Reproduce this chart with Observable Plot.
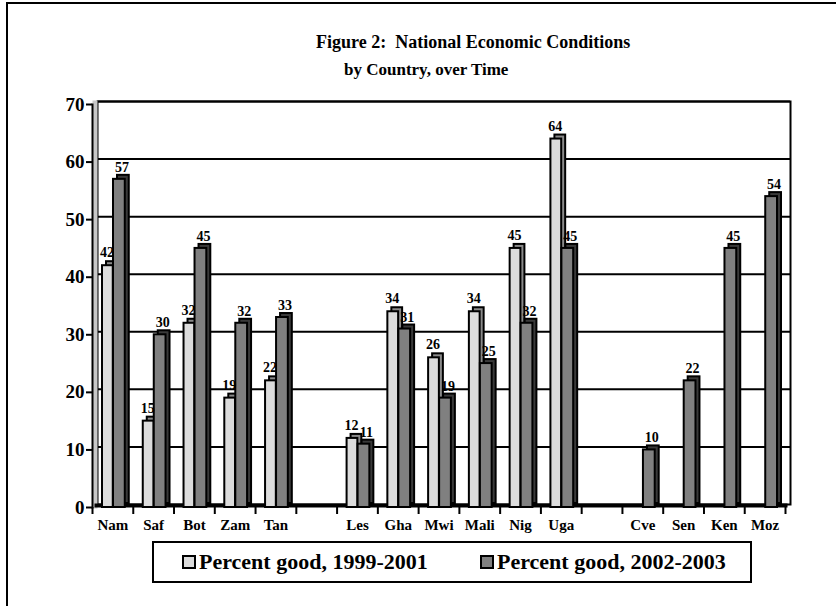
<!DOCTYPE html>
<html>
<head>
<meta charset="utf-8">
<script src="https://cdn.jsdelivr.net/npm/d3@7"></script>
<script src="https://cdn.jsdelivr.net/npm/@observablehq/plot@0.6"></script>
<style>
  html, body { margin: 0; padding: 0; background: #fff; }
  #wrap { position: relative; width: 836px; height: 606px; overflow: hidden; background: #fff;
          font-family: "Liberation Serif", "Times New Roman", serif; font-weight: bold; color: #000; }
  #outer { position: absolute; left: 6px; top: 2px; width: 1000px; height: 1000px; border: 2px solid #000; box-sizing: border-box; }
  .title { position: absolute; white-space: pre; font-weight: bold; line-height: 1; }
  #chart { position: absolute; left: 0; top: 0; }
  #legend { position: absolute; left: 152px; top: 541px; width: 600px; height: 42px; border: 2px solid #000; box-sizing: border-box; background: #fff; }
  .item { position: absolute; top: 0; height: 38px; display: flex; align-items: center; font-size: 22px; font-weight: bold; white-space: nowrap; }
  .sw { width: 14px; height: 14px; border: 2px solid #000; box-sizing: border-box; margin-right: 3px; }
</style>
</head>
<body>
<div id="wrap">
  <div id="outer"></div>
  <div class="title" id="t1" style="left:316px; top:33px; font-size:18px;">Figure 2:  National Economic Conditions</div>
  <div class="title" id="t2" style="left:344px; top:61px; font-size:17px;">by Country, over Time</div>
  <div id="chart"></div>
  <div id="legend"></div>
</div>
<script>
// ---- data ----
const countries = ["Nam", "Saf", "Bot", "Zam", "Tan", " ", "Les", "Gha", "Mwi", "Mali", "Nig", "Uga", "  ", "Cve", "Sen", "Ken", "Moz"];
const good1999 = [42, 15, 32, 19, 22, null, 12, 34, 26, 34, 45, 64, null, null, null, null, null];
const good2002 = [57, 30, 45, 32, 33, null, 11, 31, 19, 25, 32, 45, null, 10, 22, 45, 54];
const seriesNames = ["Percent good, 1999-2001", "Percent good, 2002-2003"];
const seriesColors = ["#dcdcdc", "#808080"];
const sideColors = ["#8a8a8a", "#3a3a3a"];
const yTicks = [0, 10, 20, 30, 40, 50, 60, 70];

const rows1 = countries.map((c, i) => ({country: c, value: good1999[i]})).filter(d => d.value != null);
const rows2 = countries.map((c, i) => ({country: c, value: good2002[i]})).filter(d => d.value != null);

// ---- layout ----
const W = 836, H = 540, ML = 92, MR = 51, MT = 104, MB = 33;
const bw = (W - ML - MR) / countries.length;
const depthX = 4, depthY = -4;
const font = "'Liberation Serif', 'Times New Roman', serif";

const barOpts = (fill, inL, inR, extra = {}) => ({
  x: "country", y: "value", fill, stroke: "black", strokeWidth: 2,
  insetLeft: inL, insetRight: inR, ...extra
});

const plot = Plot.plot({
  width: W, height: H,
  marginLeft: ML, marginRight: MR, marginTop: MT, marginBottom: MB,
  style: {fontFamily: font, fontWeight: "bold", color: "black", background: "transparent", overflow: "visible"},
  x: {type: "band", domain: countries, padding: 0, round: false, label: null},
  y: {domain: [0, 70], label: null},
  marks: [
    // back wall grid and frame
    Plot.gridY(yTicks.filter(d => d > 0), {stroke: "black", strokeOpacity: 1, strokeWidth: 2, dx: 5, dy: -3}),
    Plot.frame({stroke: "black", strokeWidth: 2, dx: 5, dy: -3}),
    // left wall
    Plot.frame({anchor: "left", stroke: "#c8c8c8", strokeWidth: 5, dx: 2.5, dy: -1.5}),
    Plot.frame({anchor: "left", stroke: "black", strokeWidth: 2}),
    // floor
    Plot.ruleY([0], {stroke: "black", strokeWidth: 4, dy: -2, dx: 2.5}),
    // bars series 1 (3D: back face then front)
    Plot.barY(rows1, barOpts(sideColors[0], 10, 20, {dx: depthX, dy: depthY})),
    Plot.barY(rows1, barOpts(seriesColors[0], 10, 20)),
    // bars series 2
    Plot.barY(rows2, barOpts(sideColors[1], 21, 8, {dx: depthX, dy: depthY})),
    Plot.barY(rows2, barOpts(seriesColors[1], 21, 8)),
    // value labels
    Plot.text(rows1, {x: "country", y: "value", text: d => String(d.value), dx: -6, dy: -13, fontSize: 14, fontWeight: "bold"}),
    Plot.text(rows2, {x: "country", y: "value", text: d => String(d.value), dx: 9, dy: -12, fontSize: 14, fontWeight: "bold"}),
    // axes
    Plot.axisY(yTicks, {tickSize: 6, tickPadding: 2, fontSize: 19, strokeWidth: 2, label: null}),
    Plot.axisX({tickSize: 0, tickPadding: 12, fontSize: 15, tickFormat: d => d.trim(), label: null}),
    Plot.axisX({tickSize: 7, strokeWidth: 2, tickFormat: () => "", dx: -bw / 2, label: null}),
    Plot.axisX([countries[countries.length - 1]], {tickSize: 7, strokeWidth: 2, tickFormat: () => "", dx: bw / 2, label: null})
  ]
});
document.getElementById("chart").appendChild(plot);

// ---- legend ----
const legend = document.getElementById("legend");
const itemLeft = [28, 326];
seriesNames.forEach((name, i) => {
  const it = document.createElement("div");
  it.className = "item";
  it.style.left = itemLeft[i] + "px";
  const sw = document.createElement("span");
  sw.className = "sw";
  sw.style.background = seriesColors[i];
  const tx = document.createElement("span");
  tx.textContent = name;
  it.appendChild(sw); it.appendChild(tx);
  legend.appendChild(it);
});
</script>
</body>
</html>
